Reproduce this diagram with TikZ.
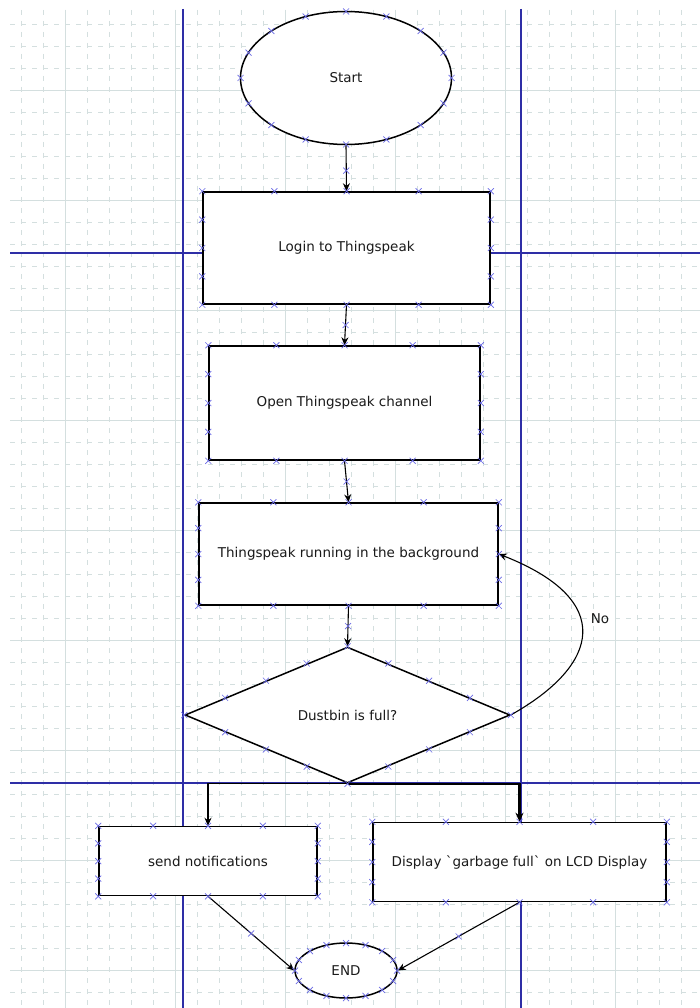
\documentclass[tikz,border=0pt]{standalone}
\usepackage{fontspec}
\setmainfont{DejaVu Sans}
\usetikzlibrary{arrows.meta,shapes.geometric,calc}
\definecolor{FlowGrid}{HTML}{D4DFDF}
\definecolor{FlowLane}{HTML}{2E2EA6}
\definecolor{FlowPort}{HTML}{6A6AE6}
\definecolor{FlowInk}{HTML}{1A1A1A}

\tikzset{
  portx/.pic={\draw[FlowPort, line width=0.7pt] (-3,-3) -- (3,3) (-3,3) -- (3,-3);},
  flowtxt/.style={font=\fontsize{13.5}{16}\selectfont, text=FlowInk},
  flowbox/.style={flowtxt, draw, rectangle, line width=1.5pt, fill=white, inner sep=0pt},
  flowoval/.style={flowtxt, draw, ellipse, line width=1.5pt, fill=white, inner sep=0pt},
  flowdia/.style={flowtxt, draw, diamond, line width=1.5pt, fill=white, inner sep=0pt},
  conn/.style={draw, line width=1.1pt, -{Stealth[length=8pt,width=7pt]}},
  lane/.style={FlowLane, line width=1.5pt},
}

% connection points round a box, an oval and a diamond
\newcommand{\boxports}[1]{%
  \foreach \f in {0,0.25,0.5,0.75,1} {
    \pic at ($(#1.north west)!\f!(#1.north east)$) {portx};
    \pic at ($(#1.south west)!\f!(#1.south east)$) {portx};
  }
  \foreach \f in {0.25,0.5,0.75} {
    \pic at ($(#1.north west)!\f!(#1.south west)$) {portx};
    \pic at ($(#1.north east)!\f!(#1.south east)$) {portx};
  }}
\newcommand{\ovalports}[3]{%
  \foreach \a in {0,22.5,...,337.5}
    \pic at ($(#1.center)+(\a:#2 and #3)$) {portx};}
\newcommand{\diaports}[1]{%
  \foreach \p/\q in {north/west,west/south,south/east,east/north}
    \foreach \f in {0,0.25,0.5,0.75}
      \pic at ($(#1.\p)!\f!(#1.\q)$) {portx};}

\begin{document}
\begin{tikzpicture}[x=1pt, y=-1pt]
    \useasboundingbox (0,0) rectangle (700,1008);
    \fill[white] (0,0) rectangle (700,1008);

    % ========== Grid ==========
    \begin{scope}[FlowGrid, line width=0.8pt]
        \foreach \x in {21,43,...,699}
            \draw[dash pattern=on 5pt off 6pt] (\x,10) -- (\x,1008);
        \foreach \y in {24,46,...,1007}
            \draw[dash pattern=on 5pt off 6pt] (10,\y) -- (700,\y);
        \foreach \x in {65,175,...,615}
            \draw (\x,10) -- (\x,1008);
        \foreach \y in {90,200,...,970}
            \draw (10,\y) -- (700,\y);
    \end{scope}

    % ========== Lanes ==========
    \draw[lane] (183,9) -- (183,1008);
    \draw[lane] (521,9) -- (521,1008);
    \draw[lane] (10,253) -- (700,253);
    \draw[lane] (10,783) -- (700,783);

    % ========== Shapes ==========
    \node[flowoval, minimum width=211, minimum height=133] (start) at (346,78) {Start};
    \node[flowbox, minimum width=287, minimum height=112] (login) at (346.5,248) {Login to Thingspeak};
    \node[flowbox, minimum width=271, minimum height=114] (open) at (344.5,403) {Open Thingspeak channel};
    \node[flowbox, minimum width=299, minimum height=102] (run) at (348.5,554) {Thingspeak running in the background};
    \node[flowdia, minimum width=325, minimum height=136] (full) at (347.5,715) {Dustbin is full?};
    \node[flowbox, minimum width=218, minimum height=69] (notify) at (208,861) {send notifications};
    \node[flowbox, minimum width=293, minimum height=79] (lcd) at (519.5,862) {Display \textasciigrave garbage full\textasciigrave\ on LCD Display};
    \node[flowoval, minimum width=102, minimum height=55] (finish) at (346,970.5) {END};

    % ========== Connectors ==========
    \draw[conn] (start.south) -- (login.north);
    \draw[conn] (login.south) -- (open.north);
    \draw[conn] (open.south) -- (run.north);
    \draw[conn] (run.south) -- (full.north);
    \draw[conn] (full.east) .. controls (600,665) and (616,600) .. (run.east);
    \node[flowtxt] (nolbl) at (600,619) {No};
    \draw[conn] (full.south) -| (notify.north);
    \draw[conn, line width=2.2pt, -{Stealth[length=9pt,width=8pt]}] (full.south) -| (lcd.north);
    \draw[conn] (notify.south) -- (finish.west);
    \draw[conn] (lcd.south) -- (finish.east);

    % ========== Connection points ==========
    \ovalports{start}{105.5}{66.5}
    \ovalports{finish}{51}{27.5}
    \boxports{login}
    \boxports{open}
    \boxports{run}
    \boxports{notify}
    \boxports{lcd}
    \diaports{full}
    \pic at ($(start.south)!0.55!(login.north)$) {portx};
    \pic at ($(login.south)!0.5!(open.north)$) {portx};
    \pic at ($(open.south)!0.5!(run.north)$) {portx};
    \pic at ($(run.south)!0.5!(full.north)$) {portx};
    \pic at ($(notify.south)!0.5!(finish.west)$) {portx};
    \pic at ($(lcd.south)!0.5!(finish.east)$) {portx};

\end{tikzpicture}
\end{document}
